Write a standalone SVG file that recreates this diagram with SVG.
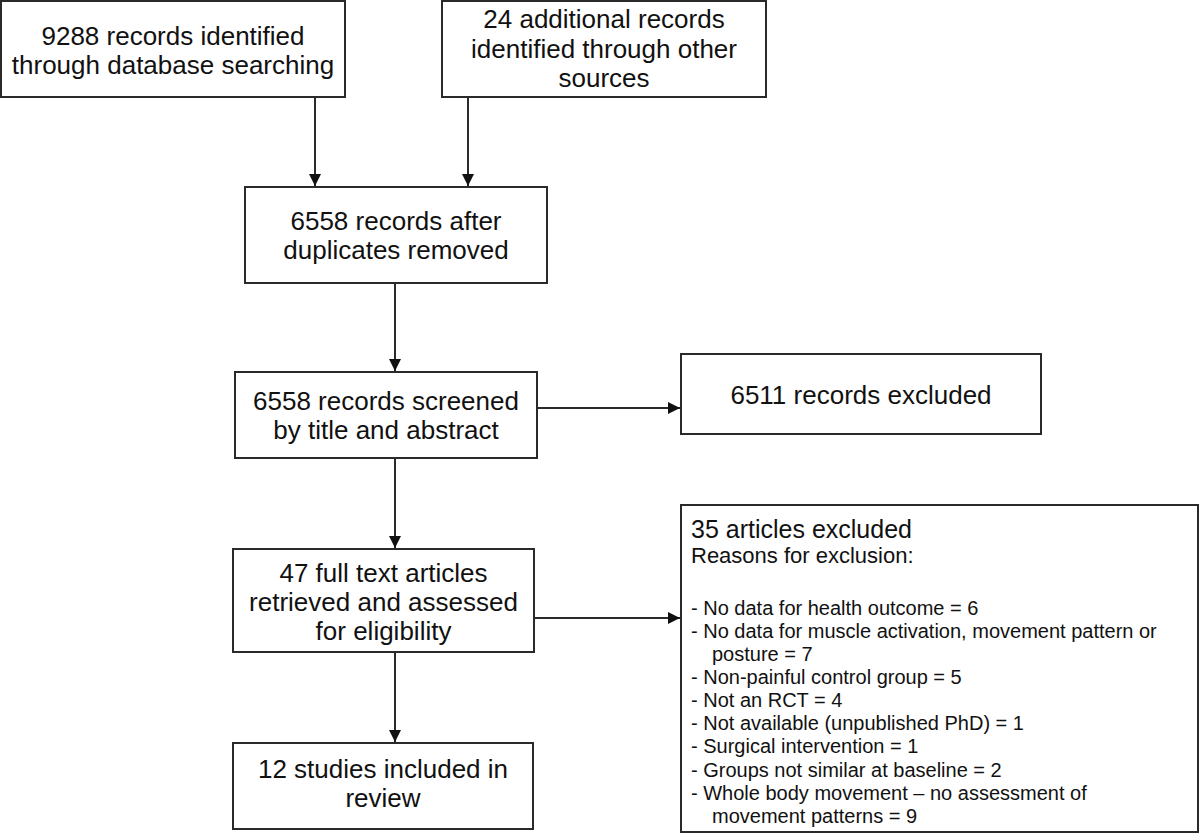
<svg xmlns="http://www.w3.org/2000/svg" width="1200" height="834" viewBox="0 0 1200 834">
<style>
.box{fill:#fff;stroke:#2a2a2a;stroke-width:2}
.t{font-family:"Liberation Sans",Arial,sans-serif;font-size:26px;fill:#111;text-anchor:middle}
.l{font-family:"Liberation Sans",Arial,sans-serif;font-size:20px;fill:#111}
.edge{stroke:#2a2a2a;stroke-width:2;fill:none;marker-end:url(#ah)}
</style>
<defs>
<marker id="ah" viewBox="0 0 12 12" refX="12" refY="6" markerWidth="12" markerHeight="12" markerUnits="userSpaceOnUse" orient="auto">
<path d="M0,0 L12,6 L0,12 z" fill="#111"/>
</marker>
</defs>
<rect width="1200" height="834" fill="#fff"/>
<g id="connectors">
<line class="edge" x1="315" y1="97" x2="315" y2="186"/>
<line class="edge" x1="468" y1="97" x2="468" y2="186"/>
<line class="edge" x1="395" y1="283" x2="395" y2="371"/>
<line class="edge" x1="537" y1="408" x2="680" y2="408"/>
<line class="edge" x1="395" y1="458" x2="395" y2="548"/>
<line class="edge" x1="534" y1="618" x2="680" y2="618"/>
<line class="edge" x1="395" y1="652" x2="395" y2="742"/>
</g>
<g id="n1">
<rect class="box" x="1" y="1" width="344" height="96"/>
<text class="t" x="173" y="45">9288 records identified</text>
<text class="t" x="173" y="74">through database searching</text>
</g>
<g id="n2">
<rect class="box" x="442" y="1" width="324" height="96"/>
<text class="t" x="604" y="28">24 additional records</text>
<text class="t" x="604" y="58">identified through other</text>
<text class="t" x="604" y="87">sources</text>
</g>
<g id="n3">
<rect class="box" x="245" y="187" width="302" height="96"/>
<text class="t" x="396" y="230">6558 records after</text>
<text class="t" x="396" y="259">duplicates removed</text>
</g>
<g id="n4">
<rect class="box" x="235" y="372" width="302" height="86"/>
<text class="t" x="386" y="410">6558 records screened</text>
<text class="t" x="386" y="439">by title and abstract</text>
</g>
<g id="n5">
<rect class="box" x="681" y="354" width="360" height="80"/>
<text class="t" x="861" y="404">6511 records excluded</text>
</g>
<g id="n6">
<rect class="box" x="233" y="549" width="301" height="103"/>
<text class="t" x="383.5" y="582">47 full text articles</text>
<text class="t" x="383.5" y="611">retrieved and assessed</text>
<text class="t" x="383.5" y="640">for eligibility</text>
</g>
<g id="n7">
<rect class="box" x="681" y="505" width="517" height="327"/>
<text class="l" x="691" y="538" style="font-size:25px">35 articles excluded</text>
<text class="l" x="691" y="563" style="font-size:22px">Reasons for exclusion:</text>
<text class="l" x="691" y="615">- No data for health outcome = 6</text>
<text class="l" x="691" y="638">- No data for muscle activation, movement pattern or</text>
<text class="l" x="712" y="661">posture = 7</text>
<text class="l" x="691" y="684">- Non-painful control group = 5</text>
<text class="l" x="691" y="707">- Not an RCT = 4</text>
<text class="l" x="691" y="730">- Not available (unpublished PhD) = 1</text>
<text class="l" x="691" y="753">- Surgical intervention = 1</text>
<text class="l" x="691" y="777">- Groups not similar at baseline = 2</text>
<text class="l" x="691" y="800">- Whole body movement – no assessment of</text>
<text class="l" x="712" y="823">movement patterns = 9</text>
</g>
<g id="n8">
<rect class="box" x="233" y="743" width="300" height="86"/>
<text class="t" x="383" y="778">12 studies included in</text>
<text class="t" x="383" y="807">review</text>
</g>
</svg>
